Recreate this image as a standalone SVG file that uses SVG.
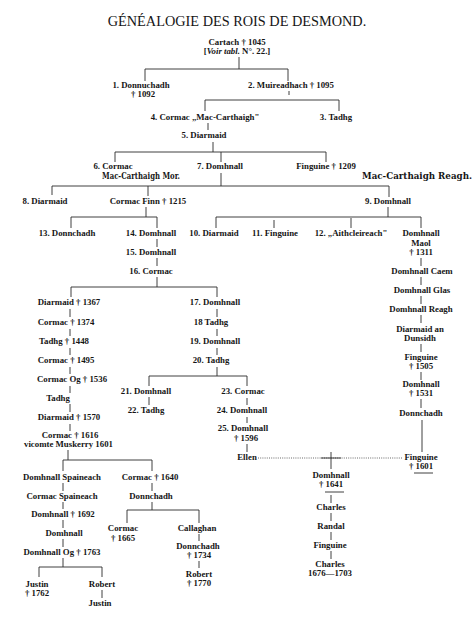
<svg xmlns="http://www.w3.org/2000/svg" width="474" height="619" viewBox="0 0 474 619">
<style>
text{font-family:"Liberation Serif","Times New Roman",serif;font-size:8.8px;font-weight:bold;fill:#151515;text-anchor:middle}
.title{font-size:14.3px;font-weight:normal}
.heavy{font-family:"DejaVu Serif Condensed","DejaVu Serif",serif;font-size:9.4px;font-weight:bold;text-anchor:start}
.it{font-style:italic}
.ln{stroke:#2a2a2a;stroke-width:0.9;fill:none}
.dot{stroke:#444;stroke-width:0.8;fill:none;stroke-dasharray:1 1.2}
</style>
<rect width="474" height="619" fill="#fff"/>
<text class="title" x="237" y="26">GÉNÉALOGIE DES ROIS DE DESMOND.</text>
<g id="connectors">
<path class="ln" d="M239 57V69M145 69H288M145 69V81M288 69V81M289 91V95M205 100H339M205 100V111M339 100V111M208 123V130M213 142V152M115 152H326M115 152V162M221 152V162M326 152V162M221 173V186M52 186H389M52 186V195M148 186V196M389 186V197"/>
<path class="ln" d="M146 207V217M71 217H157M71 217V228M157 217V228M388 207V217M216 217H421M216 217V228M274 220V228M351 218V228M421 217V228M157 239V247M157 258V266M157 277V287M71 287H217M71 287V297M217 287V297"/>
<path class="ln" d="M421 258V266M421 277V285M421 296V304M421 315V323M421 344V352M421 372V380M421 399V408M422 420V452"/>
<path class="ln" d="M70 309V317M70 329V336M70 348V355M70 367V374M70 386V393M70 404V412M70 424V431M68 450V460M63 460H152M63 460V471M152 460V471M63 483V491M152 483V491M152 502V510M127 510H199M127 510V523M199 510V523M63 502V509M63 520V528M63 539V547M63 558V567M39 567H102M39 567V577M102 567V577M102 590V598M199 534V541M199 561V568"/>
<path class="ln" d="M217 309V317M217 329V336M217 348V355M217 367V376M149 376H247M149 376V386M247 376V386M149 397V405M247 398V405M247 417V423M247 444V452"/>
<path class="dot" d="M258 458H403"/>
<path class="ln" d="M321 458H341M331 452V469M331 495V503M331 513V521M331 532V540M331 551V559M414 473H433M325 492H344"/>
</g>
<g id="cartach"><text x="237" y="45">Cartach † 1045</text><text x="237" y="54">[<tspan class="it">Voir tabl.</tspan> N°. 22.]</text></g>
<g id="n1"><text x="141" y="88">1. Donnuchadh</text><text x="143" y="97">† 1092</text></g>
<g id="n2"><text x="291" y="88">2. Muireadhach † 1095</text></g>
<g id="n4"><text x="205" y="120">4. Cormac „Mac-Carthaigh"</text></g>
<g id="n3"><text x="336" y="120">3. Tadhg</text></g>
<g id="n5"><text x="204" y="138">5. Diarmaid</text></g>
<g id="n6"><text x="113" y="169">6. Cormac</text></g>
<g id="mor"><text class="heavy" x="102" y="179" textLength="78" lengthAdjust="spacingAndGlyphs">Mac-Carthaigh Mor.</text></g>
<g id="n7"><text x="220" y="169">7. Domhnall</text></g>
<g id="finguine1209"><text x="326" y="169">Finguine † 1209</text></g>
<g id="reagh"><text class="heavy" x="362" y="179" textLength="110" lengthAdjust="spacingAndGlyphs">Mac-Carthaigh Reagh.</text></g>
<g id="n8"><text x="45" y="204">8. Diarmaid</text></g>
<g id="cormacfinn"><text x="148" y="204">Cormac Finn † 1215</text></g>
<g id="n9"><text x="388" y="204">9. Domhnall</text></g>
<g id="n13"><text x="67" y="236">13. Donnchadh</text></g>
<g id="n14"><text x="151" y="236">14. Domhnall</text></g>
<g id="n10"><text x="214" y="236">10. Diarmaid</text></g>
<g id="n11"><text x="275" y="236">11. Finguine</text></g>
<g id="n12"><text x="351" y="236">12. „Aithcleireach"</text></g>
<g id="maol"><text x="421" y="236">Domhnall</text><text x="421" y="245.5">Maol</text><text x="421" y="255">† 1311</text></g>
<g id="n15"><text x="151" y="255">15. Domhnall</text></g>
<g id="n16"><text x="151" y="274">16. Cormac</text></g>
<g id="caem"><text x="422" y="274">Domhnall Caem</text></g>
<g id="glas"><text x="422" y="293">Domhnall Glas</text></g>
<g id="reaghd"><text x="421" y="312">Domhnall Reagh</text></g>
<g id="dunsidh"><text x="420" y="332">Diarmaid an</text><text x="420" y="341">Dunsidh</text></g>
<g id="finguine1505"><text x="421" y="360">Finguine</text><text x="421" y="369">† 1505</text></g>
<g id="domhnall1531"><text x="421" y="387">Domhnall</text><text x="421" y="396">† 1531</text></g>
<g id="donnchadhR"><text x="421" y="416">Donnchadh</text></g>
<g id="finguine1601"><text x="421" y="460">Finguine</text><text x="421" y="469">† 1601</text></g>
<g id="diarmaid1367"><text x="69" y="305">Diarmaid † 1367</text></g>
<g id="cormac1374"><text x="66" y="325">Cormac † 1374</text></g>
<g id="tadhg1448"><text x="64" y="344">Tadhg † 1448</text></g>
<g id="cormac1495"><text x="66" y="363">Cormac † 1495</text></g>
<g id="cormacog"><text x="72" y="382">Cormac Og † 1536</text></g>
<g id="tadhgL"><text x="58" y="401">Tadhg</text></g>
<g id="diarmaid1570"><text x="69" y="420">Diarmaid † 1570</text></g>
<g id="cormac1616"><text x="70" y="438">Cormac † 1616</text><text x="68.5" y="447">vicomte Muskerry 1601</text></g>
<g id="n17"><text x="215" y="305">17. Domhnall</text></g>
<g id="n18"><text x="211" y="325">18 Tadhg</text></g>
<g id="n19"><text x="215" y="344">19. Domhnall</text></g>
<g id="n20"><text x="211" y="363">20. Tadhg</text></g>
<g id="n21"><text x="146" y="394">21. Domhnall</text></g>
<g id="n22"><text x="146" y="413">22. Tadhg</text></g>
<g id="n23"><text x="243" y="394">23. Cormac</text></g>
<g id="n24"><text x="242" y="413">24. Domhnall</text></g>
<g id="n25"><text x="243" y="431">25. Domhnall</text><text x="246" y="441">† 1596</text></g>
<g id="ellen"><text x="247" y="460">Ellen</text></g>
<g id="domhnall1641"><text x="331" y="478">Domhnall</text><text x="331" y="487">† 1641</text></g>
<g id="charles1"><text x="331" y="510">Charles</text></g>
<g id="randal"><text x="331" y="529">Randal</text></g>
<g id="finguineC"><text x="330" y="548">Finguine</text></g>
<g id="charles2"><text x="330" y="567">Charles</text><text x="330" y="576">1676—1703</text></g>
<g id="spaineach"><text x="62" y="480">Domhnall Spaineach</text></g>
<g id="cormac1640"><text x="150" y="480">Cormac † 1640</text></g>
<g id="cormacsp"><text x="62" y="499">Cormac Spaineach</text></g>
<g id="donnchadhL"><text x="151" y="499">Donnchadh</text></g>
<g id="domhnall1692"><text x="63" y="517">Domhnall † 1692</text></g>
<g id="domhnallL"><text x="64" y="536">Domhnall</text></g>
<g id="domhnallog"><text x="62" y="555">Domhnall Og † 1763</text></g>
<g id="justin1762"><text x="37" y="587">Justin</text><text x="37" y="596">† 1762</text></g>
<g id="robertL"><text x="102" y="587">Robert</text></g>
<g id="justin2"><text x="100" y="606">Justin</text></g>
<g id="cormac1665"><text x="123" y="531">Cormac</text><text x="123" y="541">† 1665</text></g>
<g id="callaghan"><text x="197" y="531">Callaghan</text></g>
<g id="donnchadh1734"><text x="198" y="549">Donnchadh</text><text x="199" y="558">† 1734</text></g>
<g id="robert1770"><text x="199" y="577">Robert</text><text x="199" y="586">† 1770</text></g>
</svg>
